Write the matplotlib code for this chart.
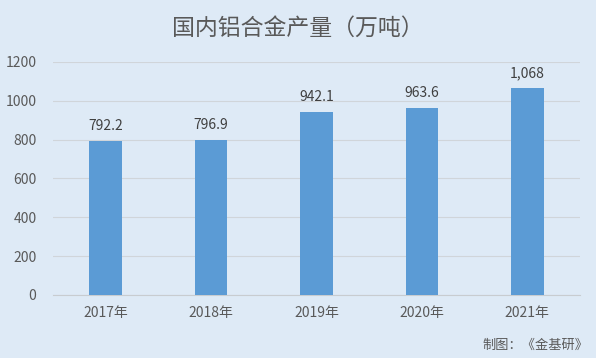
import numpy as np
import matplotlib.pyplot as plt

plt.rcParams['font.family'] = ['Noto Sans CJK SC', 'DejaVu Sans']

years = ['2017年', '2018年', '2019年', '2020年', '2021年']
output = [792.2, 796.9, 942.1, 963.6, 1068]
labels = ['792.2', '796.9', '942.1', '963.6', '1,068']

bg = '#DEEAF6'
fig = plt.figure(figsize=(5.96, 3.58), dpi=100, facecolor=bg)
ax = fig.add_axes([0.089, 0.176, 0.884, 0.651], facecolor=bg)

x = np.arange(len(years))
bars = ax.bar(x, output, width=0.31, color='#5B9BD5', zorder=3)
for b, t in zip(bars, labels):
    ax.text(b.get_x() + b.get_width() / 2, b.get_height() + 40, t,
            ha='center', va='bottom', fontsize=10, color='#404040')

ax.set_xlim(-0.5, len(years) - 0.5)
ax.set_ylim(0, 1200)
ax.set_yticks(range(0, 1201, 200))
ax.set_xticks(x)
ax.set_xticklabels(years)
ax.tick_params(axis='both', length=0, labelsize=10, colors='#595959')
ax.tick_params(axis='y', pad=12)
ax.tick_params(axis='x', pad=8)
ax.grid(axis='y', color='#D0D5DA', linewidth=0.8, zorder=0)
for s in ['top', 'right', 'left']:
    ax.spines[s].set_visible(False)
ax.spines['bottom'].set_color('#C8CCD0')

fig.text(0.5, 0.922, '国内铝合金产量（万吨）', ha='center', va='center',
         fontsize=16.5, color='#595959')
fig.text(0.987, 0.035, '制图：《金基研》', ha='right', va='center',
         fontsize=9.5, color='#595959')

fig.savefig('out.png', dpi=100, facecolor=bg)
